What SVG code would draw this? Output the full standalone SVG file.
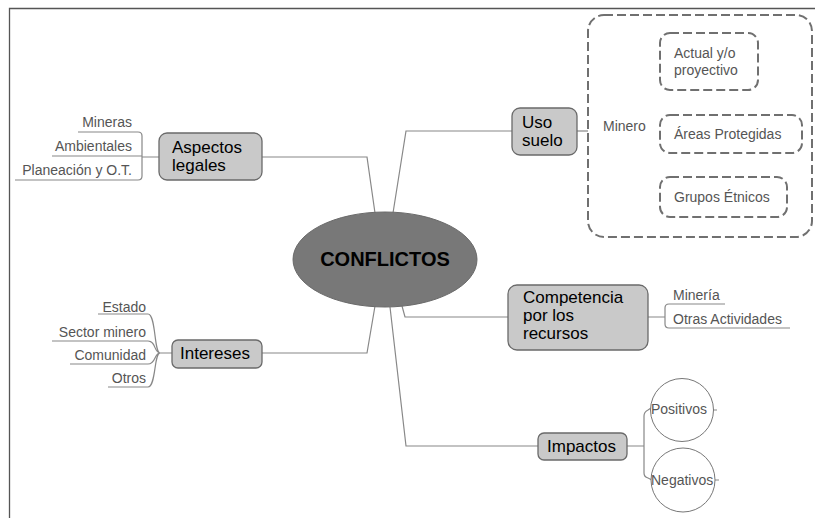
<svg xmlns="http://www.w3.org/2000/svg" width="815" height="518" viewBox="0 0 815 518">
<style>
.frame{stroke:#555;stroke-width:1.3;fill:none}
.conn{stroke:#888;stroke-width:1.2;fill:none}
.box{fill:#c9c9c9;stroke:#6a6a6a;stroke-width:1.3}
.dash{fill:#fff;stroke:#707070;stroke-width:2;stroke-dasharray:9 4}
.circ{fill:#fff;stroke:#777;stroke-width:1}
.main{font-family:"Liberation Sans",Arial,sans-serif;font-size:17px;fill:#000}
.sub{font-family:"Liberation Sans",Arial,sans-serif;font-size:14px;fill:#555}
.center{font-family:"Liberation Sans",Arial,sans-serif;font-size:20px;font-weight:bold;fill:#000}
.r{text-anchor:end}
</style>
<rect width="815" height="518" fill="#fff"/>
<path class="frame" d="M9.5,518 V8.5 H815"/>
<g id="connectors">
<path class="conn" d="M375,213 L367,157 H262"/>
<path class="conn" d="M393,213 L406,131 H512"/>
<path class="conn" d="M402,306 L405,317 H508"/>
<path class="conn" d="M390,307 L406,446 H538"/>
<path class="conn" d="M375,306 L367,353 H172"/>
<path class="conn" d="M577,131 H588"/>
<path class="conn" d="M159,157 H142 M78,132 H138 Q142,132 142,136 V176 Q142,180 138,180 H15 M52,156 H142"/>
<path class="conn" d="M648,317 H665 M725,304 H669 Q665,304 665,308 V324 Q665,328 669,328 H790"/>
<path class="conn" d="M627,446 H644 M651,408 L648,410 Q644,412 644,416 V473 Q644,477 648,478 L652,480"/>
<path class="conn" d="M713,410 H717 M715,480 H719"/>
<path class="conn" d="M172,353 H160 M98,314 H148 C156,314 154,353 160,353 M52,341 H148 C156,341 154,353 160,353 M70,364 H148 C156,364 154,353 160,353 M108,387 H148 C156,387 154,353 160,353"/>
</g>
<g id="conflictos">
<ellipse cx="385" cy="259.5" rx="92" ry="47.5" fill="#787878" stroke="#6a6a6a" stroke-width="1"/>
<text class="center" x="385" y="266" text-anchor="middle">CONFLICTOS</text>
</g>
<g id="aspectos-legales">
<rect class="box" x="159" y="133" width="103" height="47" rx="8"/>
<text class="main" x="172" y="153">Aspectos</text>
<text class="main" x="172" y="171">legales</text>
</g>
<g id="mineras"><text class="sub r" x="132" y="127">Mineras</text></g>
<g id="ambientales"><text class="sub r" x="132" y="151">Ambientales</text></g>
<g id="planeacion"><text class="sub r" x="132" y="175">Planeación y O.T.</text></g>
<g id="uso-suelo">
<rect class="box" x="512" y="108" width="65" height="47" rx="8"/>
<text class="main" x="522" y="128">Uso</text>
<text class="main" x="522" y="146">suelo</text>
</g>
<g id="minero">
<rect class="dash" x="588" y="15" width="224" height="222" rx="16"/>
<text class="sub" x="603" y="131">Minero</text>
</g>
<g id="actual">
<rect class="dash" x="660" y="33" width="98" height="57" rx="10"/>
<text class="sub" x="674" y="58">Actual y/o</text>
<text class="sub" x="674" y="75">proyectivo</text>
</g>
<g id="areas">
<rect class="dash" x="660" y="115" width="142" height="38" rx="10"/>
<text class="sub" x="674" y="139">Áreas Protegidas</text>
</g>
<g id="grupos">
<rect class="dash" x="660" y="177" width="127" height="40" rx="10"/>
<text class="sub" x="674" y="202">Grupos Étnicos</text>
</g>
<g id="competencia">
<rect class="box" x="508" y="285" width="140" height="65" rx="9"/>
<text class="main" x="523" y="303">Competencia</text>
<text class="main" x="523" y="321">por los</text>
<text class="main" x="523" y="339">recursos</text>
</g>
<g id="mineria"><text class="sub" x="673" y="300">Minería</text></g>
<g id="otras"><text class="sub" x="673" y="324">Otras Actividades</text></g>
<g id="impactos">
<rect class="box" x="538" y="433" width="89" height="27" rx="6"/>
<text class="main" x="547" y="452">Impactos</text>
</g>
<g id="positivos">
<circle class="circ" cx="682" cy="410" r="31.5"/>
<text class="sub" x="651" y="414">Positivos</text>
</g>
<g id="negativos">
<circle class="circ" cx="683" cy="480" r="32"/>
<text class="sub" x="651" y="485">Negativos</text>
</g>
<g id="intereses">
<rect class="box" x="172" y="340" width="90" height="28" rx="6"/>
<text class="main" x="180" y="359">Intereses</text>
</g>
<g id="estado"><text class="sub r" x="146" y="312">Estado</text></g>
<g id="sector"><text class="sub r" x="146" y="337">Sector minero</text></g>
<g id="comunidad"><text class="sub r" x="146" y="360">Comunidad</text></g>
<g id="otros"><text class="sub r" x="146" y="383">Otros</text></g>
</svg>
